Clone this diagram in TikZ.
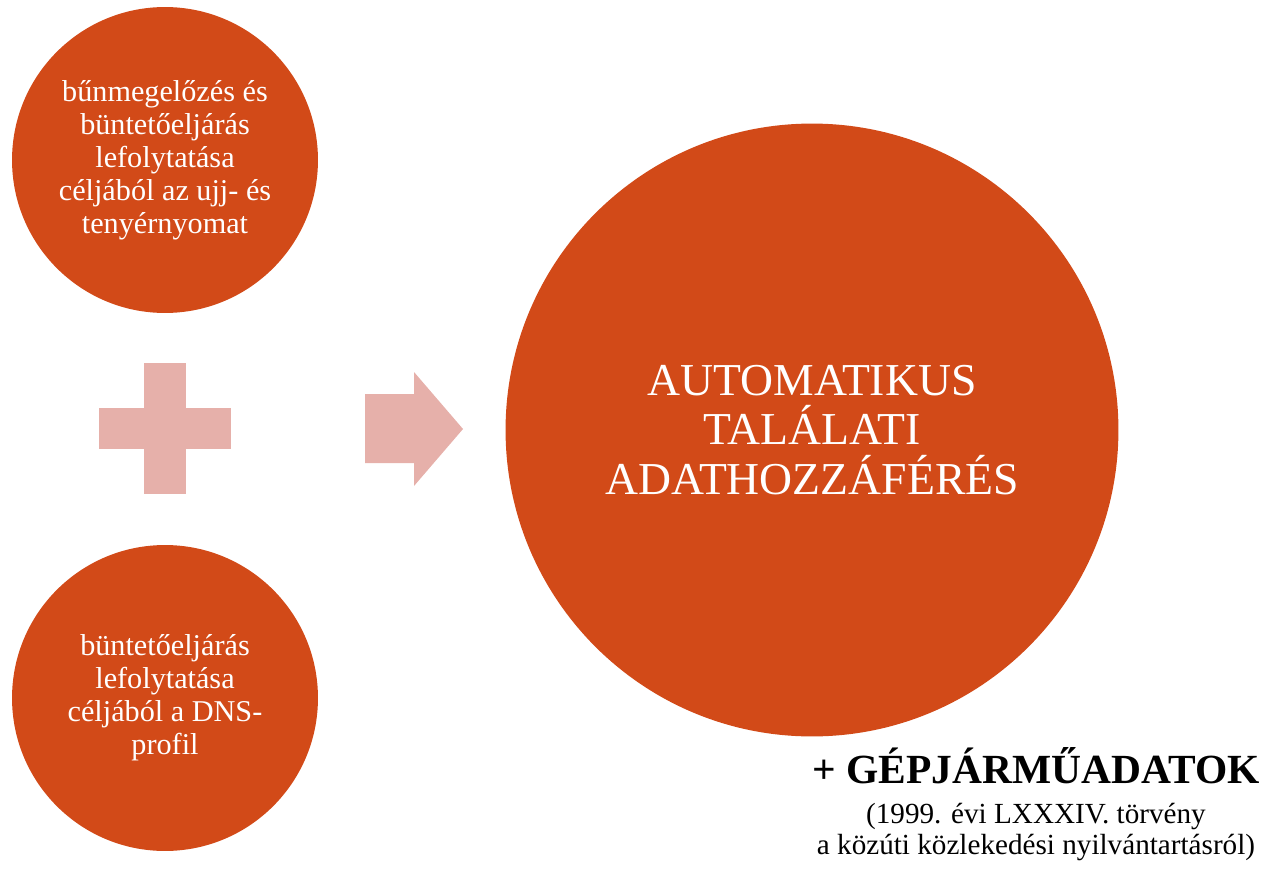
\documentclass[tikz,border=0pt]{standalone}
\usepackage{fontspec}
\setmainfont{Liberation Serif}
\usepackage{tikz}
\usetikzlibrary{positioning}

\definecolor{rust}{HTML}{D24A18}
\definecolor{pale}{HTML}{E6B0AA}

\tikzset{
  bubble/.style = {circle, fill=rust, text=white, align=center, inner sep=0pt},
  small bubble/.style = {bubble, minimum size=6.12cm, font=\fontsize{17.2}{18.8}\selectfont},
  big bubble/.style = {bubble, minimum size=12.26cm, font=\fontsize{26}{28.4}\selectfont},
  sign/.style = {fill=pale}
}

\begin{document}
\begin{tikzpicture}[x=0.02cm,y=-0.02cm]

\useasboundingbox (0,0) rectangle (1269,872);

\node [small bubble] (prints) at (165,160) {bűnmegelőzés és\\büntetőeljárás\\lefolytatása\\céljából az ujj- és\\tenyérnyomat};
\node [small bubble] (dns) at (165,698) {büntetőeljárás\\lefolytatása\\céljából a DNS-\\profil};

\node [big bubble] (hit) at (812,430) {AUTOMATIKUS\\TALÁLATI\\ADATHOZZÁFÉRÉS};

% plus sign
\fill [sign] (99,408) rectangle (231,449);
\fill [sign] (144,363) rectangle (186,494);

% arrow
\fill [sign] (365,394) -- (414,394) -- (414,372) -- (463,429) -- (414,486) -- (414,463) -- (365,463) -- cycle;

\node [anchor=base] (cars) at (1036,783) {\fontsize{23.6}{26}\selectfont\bfseries + GÉPJÁRMŰADATOK};
\node [below=4pt of cars, align=center, font=\fontsize{16.6}{17.6}\selectfont] (law) {(1999. évi LXXXIV. törvény\\a közúti közlekedési nyilvántartásról)};

\end{tikzpicture}
\end{document}
